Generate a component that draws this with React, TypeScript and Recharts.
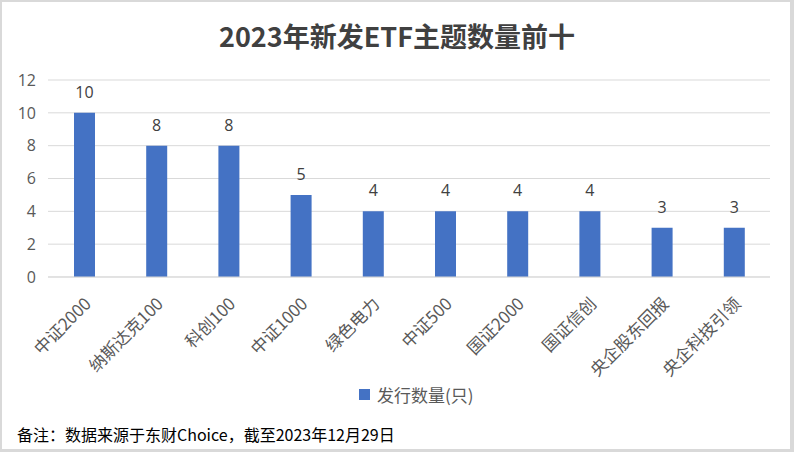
import { BarChart, Bar, XAxis, YAxis, CartesianGrid, Legend, LabelList } from 'recharts'

const themes = ['中证2000', '纳斯达克100', '科创100', '中证1000', '绿色电力', '中证500', '国证2000', '国证信创', '央企股东回报', '央企科技引领']
const counts = [10, 8, 8, 5, 4, 4, 4, 4, 3, 3]
const yTicks = [0, 2, 4, 6, 8, 10, 12]

const data = themes.map((name, i) => ({ name, value: counts[i] }))

const BLUE = '#4472C4'
const CJK = '"Noto Sans CJK SC", "Noto Sans", sans-serif'

function AngledTick({ x, y, payload }: any) {
  return (
    <text
      x={x + 8}
      y={y + 20}
      transform={`rotate(-45, ${x + 8}, ${y + 20})`}
      textAnchor="end"
      fill="#595959"
      fontSize={17}
      fontFamily={CJK}
    >
      {payload.value}
    </text>
  )
}

function LegendBox() {
  return (
    <div style={{ display: 'flex', alignItems: 'center', fontFamily: CJK, fontSize: 17, color: '#595959' }}>
      <span style={{ width: 11, height: 11, background: BLUE, marginRight: 7, display: 'inline-block' }} />
      发行数量(只)
    </div>
  )
}

export default function App() {
  return (
    <div style={{ position: 'absolute', left: 0, top: 0, width: 794, height: 452, background: '#d9d9d9' }}>
      <div style={{ position: 'absolute', left: 2, top: 2, width: 788, height: 447, background: '#fff' }} />
      {/* Title */}
      <div
        style={{
          position: 'absolute', left: 0, top: 16, width: 794, textAlign: 'center',
          fontFamily: CJK, fontWeight: 700, fontSize: 27, color: '#404040',
        }}
      >
        2023年新发ETF主题数量前十
      </div>

      <div style={{ position: 'absolute', left: 0, top: 0 }}>
        <BarChart width={794} height={452} data={data} margin={{ top: 80, right: 24, bottom: 75, left: 8 }}>
          <CartesianGrid vertical={false} stroke="#d9d9d9" strokeWidth={1} />
          <XAxis
            dataKey="name"
            interval={0}
            height={100}
            tick={<AngledTick />}
            tickLine={false}
            axisLine={{ stroke: '#d9d9d9', strokeWidth: 1 }}
          />
          <YAxis
            width={40}
            domain={[0, 12]}
            ticks={yTicks}
            axisLine={false}
            tickLine={false}
            tick={{ fill: '#595959', fontSize: 16, fontFamily: '"Open Sans", sans-serif', dx: -4 }}
          />
          <Legend
            layout="vertical"
            align="center"
            verticalAlign="middle"
            content={<LegendBox />}
            wrapperStyle={{ top: 382, left: 359, width: 'auto' }}
          />
          <Bar dataKey="value" fill={BLUE} barSize={21} isAnimationActive={false}>
            <LabelList dataKey="value" position="top" offset={15} style={{ fill: '#404040', fontSize: 16, fontFamily: '"Open Sans", sans-serif' }} />
          </Bar>
        </BarChart>
      </div>

      {/* Footnote */}
      <div style={{ position: 'absolute', left: 17, top: 422, fontFamily: CJK, fontSize: 16, color: '#000' }}>
        备注：数据来源于东财Choice，截至2023年12月29日
      </div>
    </div>
  )
}
